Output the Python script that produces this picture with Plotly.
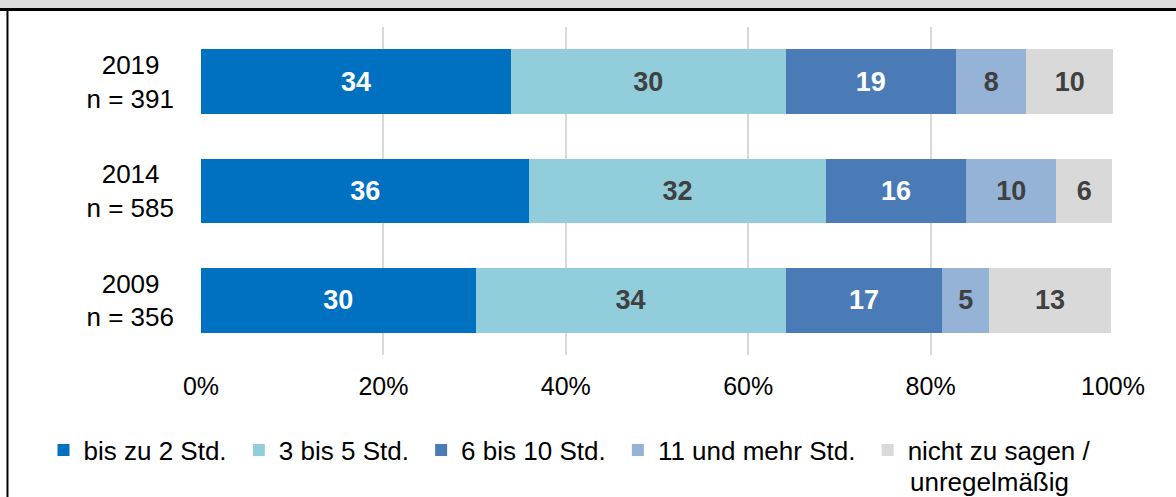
import plotly.graph_objects as go

NB = "\u00a0"
categories = ["2019" + NB * 2 + "<br>n = 391", "2014" + NB * 2 + "<br>n = 585", "2009" + NB * 2 + "<br>n = 356"]
series_names = ["bis zu 2 Std.", "3 bis 5 Std.", "6 bis 10 Std.", "11 und mehr Std.",
                "nicht zu sagen /"]
legend_second_line = "unregelmäßig"
v_bis2 = [34.0, 36.0, 30.1]
v_3bis5 = [30.1, 32.5, 34.0]
v_6bis10 = [18.7, 15.4, 17.2]
v_11plus = [7.7, 9.9, 5.1]
v_nicht = [9.5, 6.1, 13.4]
# labels as printed
l_bis2 = [34, 36, 30]
l_3bis5 = [30, 32, 34]
l_6bis10 = [19, 16, 17]
l_11plus = [8, 10, 5]
l_nicht = [10, 6, 13]
tick_vals = [0, 20, 40, 60, 80, 100]
tick_text = ["0%", "20%", "40%", "60%", "80%", "100%"]

colors = ["#0070C0", "#92CDDC", "#4A7BB7", "#95B3D7", "#D9D9D9"]
text_colors = ["#FFFFFF", "#404040", "#FFFFFF", "#404040", "#404040"]
values = [v_bis2, v_3bis5, v_6bis10, v_11plus, v_nicht]
labels = [l_bis2, l_3bis5, l_6bis10, l_11plus, l_nicht]

FONT = "Liberation Sans, Arial, sans-serif"

fig = go.Figure()
for name, vals, labs, col, tcol in zip(series_names, values, labels, colors, text_colors):
    fig.add_trace(go.Bar(
        y=categories, x=vals, name=name + NB, orientation="h",
        marker=dict(color=col, line=dict(width=0)),
        text=[str(t) for t in labs], textposition="inside", insidetextanchor="middle",
        textfont=dict(family=FONT, size=27, color=tcol, weight="bold"),
        textangle=0, constraintext="none",
        hoverinfo="skip",
    ))

fig.update_layout(
    barmode="stack",
    bargap=0.41,
    width=1176, height=497,
    margin=dict(l=201, r=63, t=27, b=142),
    paper_bgcolor="white", plot_bgcolor="white",
    font=dict(family=FONT, size=25, color="#000000"),
    uniformtext=dict(mode=False),
    xaxis=dict(range=[0, 100], tickvals=tick_vals, ticktext=tick_text,
               showgrid=True, gridcolor="#D9D9D9", gridwidth=2,
               zeroline=False, showline=False, ticks="", ticklabelstandoff=14,
               tickfont=dict(size=25, color="#000000"), fixedrange=True),
    yaxis=dict(categoryorder="array", categoryarray=categories[::-1],
               showgrid=False, zeroline=False, showline=False, ticks="",
               ticklabelstandoff=26, tickfont=dict(size=26, color="#000000"),
               fixedrange=True),
    legend=dict(orientation="h", x=-0.1727, xanchor="left", y=-0.29, yanchor="middle",
                font=dict(size=26, color="#000000"),
                traceorder="normal", itemwidth=30, bgcolor="rgba(0,0,0,0)"),
    showlegend=True,
)

# second line of the last legend entry
fig.add_annotation(text=legend_second_line, xref="paper", yref="paper",
                   x=0.7756, y=-0.386, xanchor="left", yanchor="middle",
                   showarrow=False, font=dict(size=26, color="#000000"))

# figure frame: grey header band and black border lines (as in the cropped reference)
fig.add_shape(type="rect", xref="paper", yref="paper",
              x0=-0.3, x1=1.2, y0=1.0534, y1=1.2,
              fillcolor="#DDDDDD", line=dict(width=0), layer="below")
fig.add_shape(type="line", xref="paper", yref="paper",
              x0=-0.3, x1=1.2, y0=1.0534, y1=1.0534,
              line=dict(color="#000000", width=3))
fig.add_shape(type="line", xref="paper", yref="paper",
              x0=-0.2122, x1=-0.2122, y0=-0.6, y1=1.0534,
              line=dict(color="#000000", width=2))

fig.write_html("out.html", config={"displayModeBar": False},
               post_script="document.body.style.margin='0';")
